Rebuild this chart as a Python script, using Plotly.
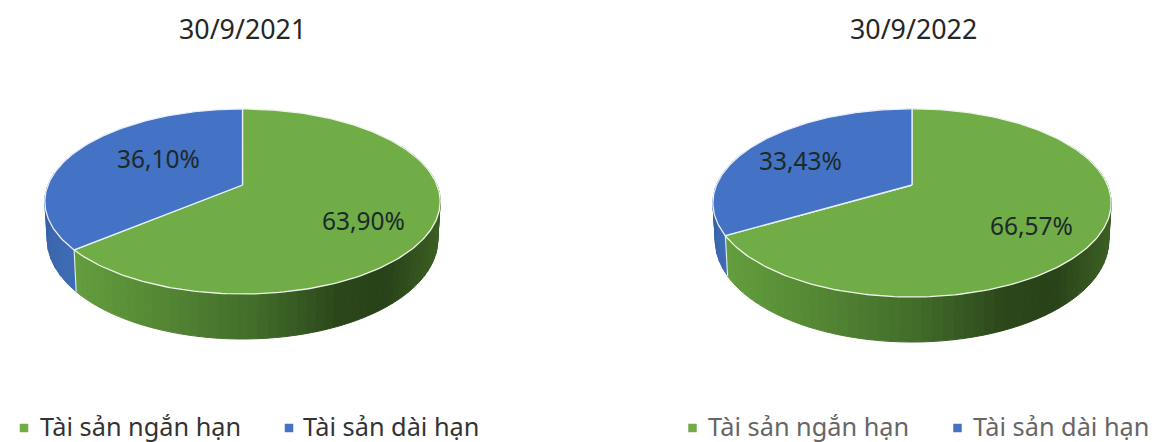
import numpy as np
import plotly.graph_objects as go

# ---- data ----
dates = ["30/9/2021", "30/9/2022"]
categories = ["Tài sản ngắn hạn", "Tài sản dài hạn"]
short_term = [63.90, 66.57]
long_term = [36.10, 33.43]

# ---- drawing parameters ----
GREEN, BLUE = "#70ad47", "#4472c4"
FONT = "Noto Sans"
pies = [
    dict(cx=242.5, cy=185, rx=194.5, k=89.6, p=0.178, d=37, title_x=242.5,
         lab=[(363.5, 220), (158.5, 158)], leg=[(24, 38), (289, 301)], txt="#333333"),
    dict(cx=912, cy=185, rx=195.5, k=90.7, p=0.19, d=36.5, title_x=913,
         lab=[(1031, 225), (800, 160)], leg=[(692.5, 706), (957.5, 971)], txt="#666666"),
]

def project(P, theta, depth=0.0):
    """Disc point at clockwise angle theta (deg from 12 o'clock) -> page pixels, with perspective."""
    t = np.radians(theta)
    u, v = np.sin(t), -np.cos(t)
    s = 1 / (1 - P["p"] * v)
    shrink = 1 - 0.012 * (depth > 0)
    return P["cx"] + P["rx"] * u * s * shrink, P["cy"] + P["k"] * v * s + depth * s

def lerp_stops(stops, f):
    xs = [a for a, _ in stops]
    return "rgb(%d,%d,%d)" % tuple(np.interp(f, xs, [c[i] for _, c in stops]) for i in range(3))

green_stops = [(0, (100, 158, 62)), (0.25, (84, 134, 52)), (0.5, (66, 108, 42)),
               (0.72, (44, 72, 27)), (0.85, (41, 66, 25)), (1, (60, 96, 36))]
blue_stops = [(0, (62, 108, 180)), (1, (50, 88, 155))]

fig = go.Figure()

def poly(xs, ys, fill, line=None, w=1.0, name=None):
    fig.add_trace(go.Scatter(x=xs, y=ys, mode="lines", fill="toself", fillcolor=fill,
                             line=dict(color=line or fill, width=w), hoverinfo="skip",
                             showlegend=False, name=name))

for i, P in enumerate(pies):
    sweep = short_term[i] / (short_term[i] + long_term[i]) * 360
    xj = project(P, sweep)[0]
    xe = P["cx"] + P["rx"] * 1.016
    # side wall: green part
    ang = np.linspace(62, sweep, 70)
    for a0, a1 in zip(ang[:-1], ang[1:]):
        x0, y0 = project(P, a0)
        x1, y1 = project(P, a1)
        x2, y2 = project(P, a1, P["d"])
        x3, y3 = project(P, a0, P["d"])
        f = np.clip(((x0 + x1) / 2 - xj) / (xe - xj), 0, 1)
        poly([x0, x1, x2, x3, x0], [y0, y1, y2, y3, y0], lerp_stops(green_stops, f))
    # side wall: blue part
    ang = np.linspace(sweep, 292, 14)
    for a0, a1 in zip(ang[:-1], ang[1:]):
        x0, y0 = project(P, a0)
        x1, y1 = project(P, a1)
        x2, y2 = project(P, a1, P["d"])
        x3, y3 = project(P, a0, P["d"])
        f = (a0 - sweep) / max(292 - sweep, 1)
        poly([x0, x1, x2, x3, x0], [y0, y1, y2, y3, y0], lerp_stops(blue_stops, f))
    # seam between the two side walls
    jx, jy = project(P, sweep)
    bx, by = project(P, sweep, P["d"])
    fig.add_trace(go.Scatter(x=[jx, bx], y=[jy, by], mode="lines", hoverinfo="skip", showlegend=False,
                             line=dict(color="#dfe9e4", width=1.2)))
    # top faces
    a = np.linspace(0, sweep, 200)
    gx, gy = project(P, a)
    poly([P["cx"], *gx, P["cx"]], [P["cy"], *gy, P["cy"]], GREEN, "#eef4ea", 1.3, categories[0])
    a = np.linspace(sweep, 360, 140)
    bx, by = project(P, a)
    poly([P["cx"], *bx, P["cx"]], [P["cy"], *by, P["cy"]], BLUE, "#e8eef8", 1.3, categories[1])
    # legend squares
    for (mx, _), col in zip(P["leg"], (GREEN, BLUE)):
        fig.add_trace(go.Scatter(x=[mx], y=[428], mode="markers", hoverinfo="skip", showlegend=False,
                                 marker=dict(symbol="square", size=8.5, color=col)))
    # texts
    fig.add_annotation(x=P["title_x"], y=28, text=dates[i], showarrow=False, xanchor="center", yanchor="middle",
                       font=dict(family=FONT, size=26.8, color="#262626"))
    for (lx, ly), v in zip(P["lab"], (short_term[i], long_term[i])):
        fig.add_annotation(x=lx, y=ly, text=f"{v:.2f}%".replace(".", ","), showarrow=False,
                           xanchor="center", yanchor="middle",
                           font=dict(family=FONT, size=24.5, color="#1c2a2a"))
    for (_, tx), c in zip(P["leg"], categories):
        fig.add_annotation(x=tx, y=426, text=c, showarrow=False, xanchor="left", yanchor="middle",
                           font=dict(family=FONT, size=25.3, color=P["txt"]))

fig.update_layout(
    width=1155, height=442, margin=dict(l=0, r=0, t=0, b=0, pad=0),
    paper_bgcolor="white", plot_bgcolor="white", showlegend=False,
    xaxis=dict(range=[0, 1155], visible=False, fixedrange=True),
    yaxis=dict(range=[442, 0], visible=False, fixedrange=True),
)
fig.write_html("out.html", config={"displayModeBar": False},
               post_script="document.body.style.margin='0';document.body.style.overflow='hidden';")
